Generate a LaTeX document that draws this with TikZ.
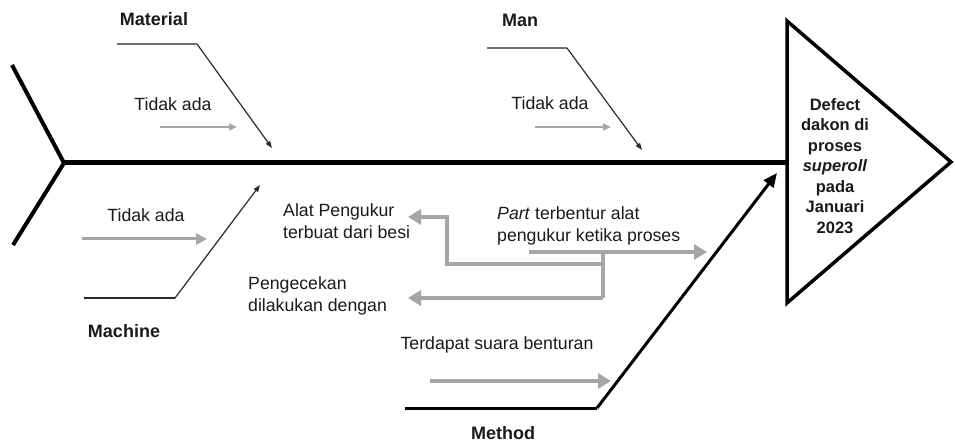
\documentclass[tikz,border=0pt]{standalone}
\usepackage{fontspec}
\setmainfont{Liberation Sans}
\usetikzlibrary{arrows.meta}
\definecolor{txt}{HTML}{1A1A1A}
\definecolor{lgray}{HTML}{A6A6A6}
\definecolor{mgray}{HTML}{6E6E6E}
\definecolor{dgray}{HTML}{2A2A2A}
\tikzset{
  spine/.style={line width=5pt, black},
  tailbone/.style={line width=4pt, black},
  headtri/.style={line width=3.5pt, black, line join=miter},
  catlabel/.style={font=\bfseries\fontsize{18}{21}\selectfont, text=txt, inner sep=0pt},
  cause/.style={font=\fontsize{17.7}{22}\selectfont, text=txt, inner sep=0pt},
  headtext/.style={font=\bfseries\fontsize{16.5}{20.5}\selectfont, text=txt, align=center, inner sep=0pt},
  topbar/.style={draw=mgray, line width=2pt},
  thinbone/.style={draw=dgray, line width=1.2pt, -{Triangle[length=7pt,width=5pt]}},
  smallarrow/.style={draw=lgray, line width=2pt, -{Triangle[length=8pt,width=7pt]}},
  midarrow/.style={draw=lgray, line width=3pt, -{Triangle[length=11pt,width=11pt]}},
  bigarrow/.style={draw=lgray, line width=4.5pt, -{Triangle[length=13pt,width=15pt]}},
  grayline/.style={draw=lgray, line width=4.5pt},
  methodbone/.style={draw=black, line width=3pt, -{Triangle[length=14pt,width=12pt]}},
}
\begin{document}
\begin{tikzpicture}[x=1pt,y=-1pt]
\useasboundingbox (0,0) rectangle (955,443);

% head
\coordinate (t1) at (787,21);
\coordinate (t2) at (951,162);
\coordinate (t3) at (787,303);
\draw[headtri] (t1) -- (t2) -- (t3) -- cycle;
\node[headtext] (head) at (835,166) {Defect\\dakon di\\proses\\\textit{superoll}\\pada\\Januari\\2023};

% spine and tail
\coordinate (sL) at (64,163);
\coordinate (sR) at (787,163);
\coordinate (tailA) at (12,65);
\coordinate (tailB) at (13,245);
\draw[spine] (sL) -- (sR);
\draw[tailbone] (tailA) -- (sL) -- (tailB);

% Material
\node[catlabel] (material) at (154,19) {Material};
\coordinate (maA) at (117,44);
\coordinate (maB) at (197,44);
\coordinate (maT) at (272,148);
\draw[topbar] (maA) -- (maB);
\draw[thinbone] (maB) -- (maT);
\node[cause] (ma1) at (173,104) {Tidak ada};
\coordinate (ma1a) at (160,127);
\coordinate (ma1b) at (237,127);
\draw[smallarrow] (ma1a) -- (ma1b);

% Man
\node[catlabel] (man) at (520,20) {Man};
\coordinate (mnA) at (487,48);
\coordinate (mnB) at (567,48);
\coordinate (mnT) at (642,150);
\draw[topbar] (mnA) -- (mnB);
\draw[thinbone] (mnB) -- (mnT);
\node[cause] (mn1) at (550,103) {Tidak ada};
\coordinate (mn1a) at (535,127);
\coordinate (mn1b) at (611,127);
\draw[smallarrow] (mn1a) -- (mn1b);

% Machine
\node[catlabel] (machine) at (124,331) {Machine};
\coordinate (mcA) at (84,298);
\coordinate (mcB) at (175,298);
\coordinate (mcT) at (260,185);
\draw[dgray, line width=1.5pt] (mcA) -- (mcB);
\draw[thinbone] (mcB) -- (mcT);
\node[cause] (mc1) at (146,215) {Tidak ada};
\coordinate (mc1a) at (82,239);
\coordinate (mc1b) at (207,239);
\draw[midarrow] (mc1a) -- (mc1b);

% Method
\node[catlabel] (method) at (503,433) {Method};
\coordinate (meA) at (405,408);
\coordinate (meB) at (597,408);
\coordinate (meT) at (777,173);
\draw[black, line width=3pt] (meA) -- (meB);
\draw[methodbone] (meB) -- (meT);

\node[cause] (terdapat) at (497,345) {Terdapat suara benturan};
\coordinate (te1) at (430,381);
\coordinate (te2) at (611,381);
\draw[bigarrow] (te1) -- (te2);

\node[cause, anchor=west, align=left] (part) at (497,226) {\textit{Part} terbentur alat\\pengukur ketika proses};
\coordinate (pa1) at (529,252);
\coordinate (pa2) at (707,252);
\draw[bigarrow] (pa1) -- (pa2);

\coordinate (j1) at (603,252);
\coordinate (j2) at (603,264);
\coordinate (j3) at (603,298);
\coordinate (k1) at (447,264);
\coordinate (k2) at (447,217);
\coordinate (k3) at (408,217);
\coordinate (l1) at (408,298);
\draw[grayline] (j1) -- (j3);
\draw[bigarrow] (j2) -- (k1) -- (k2) -- (k3);
\draw[bigarrow] (j3) -- (l1);

\node[cause, anchor=west, align=left] (alat) at (283,221) {Alat Pengukur\\terbuat dari besi};
\node[cause, anchor=west, align=left] (cek) at (248,296) {Pengecekan\\dilakukan dengan};
\end{tikzpicture}
\end{document}
